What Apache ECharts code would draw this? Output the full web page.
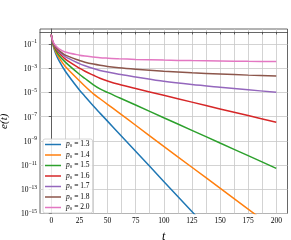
<!DOCTYPE html>
<html><head><meta charset="utf-8">
<script src="https://cdn.jsdelivr.net/npm/echarts@6/dist/echarts.min.js"></script>
<style>html,body{margin:0;padding:0;background:#fff}#c{width:291px;height:240px}</style>
</head><body><div id="c"></div>
<script>
// time samples
var tValues = [0, 0.5, 1, 2, 4, 7, 12.5, 25, 30, 37.5, 43.3, 50, 60, 75, 100, 125, 150, 175, 200];
// log10 of e(t)
var log10E_p13 = [-0.23, -0.55, -0.85, -1.25, -1.8, -2.4, -3.25, -4.8, -5.33, -6.13, -6.71, -7.37, -8.37, -9.86, -12.35, -14.84, -17.33, -19.82, -22.31];
var log10E_p14 = [-0.23, -0.53, -0.8, -1.17, -1.65, -2.15, -2.85, -4.03, -4.49, -5.12, -5.52, -5.98, -6.67, -7.71, -9.45, -11.18, -12.91, -14.64, -16.37];
var log10E_p15 = [-0.23, -0.5, -0.76, -1.08, -1.5, -1.95, -2.5, -3.5, -3.85, -4.37, -4.7, -5.0, -5.42, -6.04, -7.09, -8.13, -9.18, -10.22, -11.27];
var log10E_p16 = [-0.23, -0.48, -0.72, -1.0, -1.38, -1.75, -2.25, -3.0, -3.25, -3.58, -3.83, -4.05, -4.33, -4.68, -5.24, -5.80, -6.36, -6.91, -7.47];
var log10E_p17 = [-0.23, -0.47, -0.7, -0.97, -1.3, -1.63, -2.05, -2.62, -2.8, -3.03, -3.18, -3.32, -3.5, -3.72, -4.08, -4.35, -4.57, -4.78, -4.99];
var log10E_p18 = [-0.23, -0.46, -0.68, -0.94, -1.25, -1.55, -1.92, -2.36, -2.5, -2.66, -2.76, -2.85, -2.96, -3.08, -3.25, -3.38, -3.48, -3.57, -3.64];
var log10E_p20 = [-0.23, -0.44, -0.64, -0.88, -1.15, -1.4, -1.66, -1.92, -1.99, -2.07, -2.13, -2.17, -2.22, -2.27, -2.33, -2.37, -2.4, -2.43, -2.45];
var p0Labels = ['1.3', '1.4', '1.5', '1.6', '1.7', '1.8', '2.0'];
var seriesColors = ['#1f77b4', '#ff7f0e', '#2ca02c', '#d62728', '#9467bd', '#8c564b', '#e377c2'];
// tick values
var xTickLabels = [0, 25, 50, 75, 100, 125, 150, 175, 200];
var xGridTicks = [0, 12.5, 25, 37.5, 50, 62.5, 75, 87.5, 100, 112.5, 125, 137.5, 150, 162.5, 175, 187.5, 200];
var yTickExps = [-15, -13, -11, -9, -7, -5, -3, -1];

var allLogs = [log10E_p13, log10E_p14, log10E_p15, log10E_p16, log10E_p17, log10E_p18, log10E_p20];
var FONT = 'Liberation Serif';
var series = allLogs.map(function (arr, i) {
  return {
    name: 'p' + i,
    type: 'line',
    data: tValues.map(function (t, k) { return [t, arr[k]]; }),
    showSymbol: false,
    symbol: 'none',
    smooth: 0.3,
    clip: true,
    lineStyle: { width: 1.5, color: seriesColors[i] },
    itemStyle: { color: seriesColors[i] },
    emphasis: { disabled: true }
  };
});

var chart = echarts.init(document.getElementById('c'), null, { renderer: 'canvas' });
chart.setOption({
  animation: false,
  backgroundColor: '#fff',
  grid: { left: 40, right: 3.5, top: 29, bottom: 26.5, show: true, borderColor: '#404040', borderWidth: 0.8, containLabel: false, outerBoundsMode: 'none' },
  xAxis: {
    type: 'value', min: -10, max: 210,
    name: 't', nameLocation: 'middle', nameGap: 13,
    nameTextStyle: { fontFamily: FONT, fontStyle: 'italic', fontSize: 12, color: '#000' },
    axisLine: { show: true, lineStyle: { color: '#404040', width: 0.8 } },
    axisTick: { show: true, customValues: xGridTicks, length: 2.5, lineStyle: { color: '#404040', width: 0.8 } },
    axisLabel: { customValues: xTickLabels, fontFamily: FONT, fontSize: 7.5, color: '#000', margin: 4 },
    splitLine: { show: true, lineStyle: { color: '#c8c8c8', width: 0.8 } }
  },
  yAxis: {
    type: 'value', min: -15, max: 0.24,
    name: 'e(t)', nameLocation: 'middle', nameGap: 29, nameRotate: 90,
    nameTextStyle: { fontFamily: FONT, fontStyle: 'italic', fontSize: 11, color: '#000' },
    axisLine: { show: true, lineStyle: { color: '#404040', width: 0.8 } },
    axisTick: { show: true, customValues: yTickExps, length: 2.5, lineStyle: { color: '#404040', width: 0.8 } },
    axisLabel: {
      customValues: yTickExps, margin: 3,
      formatter: function (v) { return '{b|10}{s|\u2212' + Math.abs(v) + '}'; },
      rich: {
        b: { fontFamily: FONT, fontSize: 7.5, color: '#000', lineHeight: 10, verticalAlign: 'bottom' },
        s: { fontFamily: FONT, fontSize: 5.5, color: '#000', lineHeight: 10, verticalAlign: 'top' }
      }
    },
    splitLine: { show: true, lineStyle: { color: '#c8c8c8', width: 0.8 } }
  },
  legend: {
    orient: 'vertical', left: 43, top: 139,
    data: series.map(function (s) { return s.name; }),
    icon: 'rect', itemWidth: 16, itemHeight: 1.5, itemGap: 2.5,
    padding: [1.5, 3, 1.5, 2],
    backgroundColor: 'rgba(255,255,255,0.85)', borderColor: '#cccccc', borderWidth: 0.8, borderRadius: 2,
    formatter: function (name) { var i = +name.slice(1); return '{i|p}{sub|0}{n| = ' + p0Labels[i] + '}'; },
    textStyle: {
      fontFamily: FONT, fontSize: 7, lineHeight: 7.5, color: '#000',
      rich: {
        i: { fontFamily: FONT, fontStyle: 'italic', fontSize: 7.5, lineHeight: 7.5, color: '#000' },
        sub: { fontFamily: FONT, fontSize: 5, lineHeight: 7.5, color: '#000', verticalAlign: 'bottom' },
        n: { fontFamily: FONT, fontSize: 7.5, lineHeight: 7.5, color: '#000' }
      }
    }
  },
  series: series
});
</script></body></html>
